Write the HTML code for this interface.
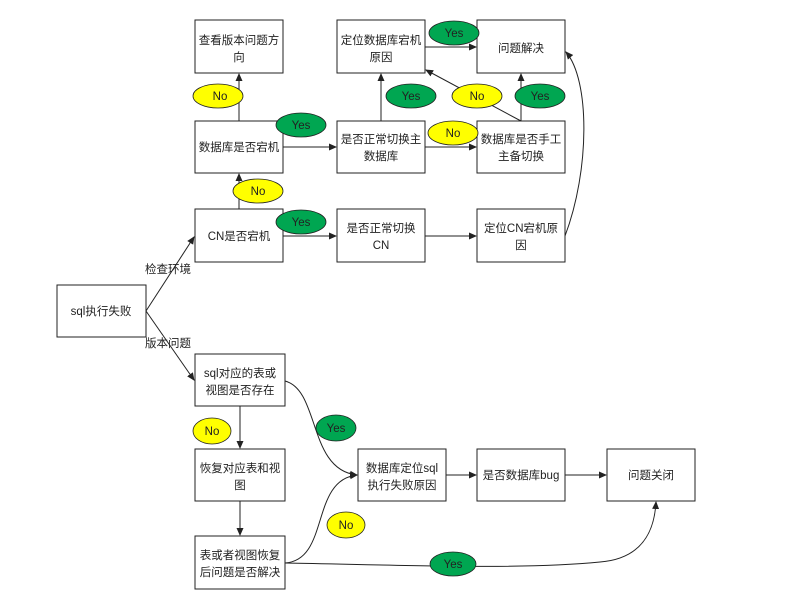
<!DOCTYPE html>
<html><head><meta charset="utf-8"><style>
body{margin:0;background:#fff;}
svg text{font-family:"Liberation Sans","Noto Sans CJK SC",sans-serif;font-size:11.5px;fill:#222;}
</style></head><body>
<svg width="800" height="609" viewBox="0 0 800 609" xmlns="http://www.w3.org/2000/svg">
<defs><marker id="a" markerWidth="8" markerHeight="8" refX="7" refY="4" orient="auto" markerUnits="userSpaceOnUse"><path d="M0,0.5 L8,4 L0,7.5 z" fill="#222"/></marker></defs>
<g stroke="#222" stroke-width="1" fill="none">
<line x1="239" y1="121" x2="239" y2="74" marker-end="url(#a)"/>
<line x1="239" y1="209" x2="239" y2="174" marker-end="url(#a)"/>
<line x1="283" y1="147" x2="336" y2="147" marker-end="url(#a)"/>
<line x1="283" y1="236" x2="336" y2="236" marker-end="url(#a)"/>
<line x1="425" y1="147" x2="476" y2="147" marker-end="url(#a)"/>
<line x1="425" y1="236" x2="476" y2="236" marker-end="url(#a)"/>
<line x1="381" y1="121" x2="381" y2="74" marker-end="url(#a)"/>
<line x1="425" y1="47" x2="476" y2="47" marker-end="url(#a)"/>
<line x1="521" y1="121" x2="521" y2="74" marker-end="url(#a)"/>
<line x1="521" y1="121" x2="426" y2="70" marker-end="url(#a)"/>
<path d="M565,236 C590,170 590,80 566,52" marker-end="url(#a)"/>
<line x1="146" y1="311" x2="194" y2="237" marker-end="url(#a)"/>
<line x1="146" y1="311" x2="194" y2="380" marker-end="url(#a)"/>
<line x1="240" y1="406" x2="240" y2="448" marker-end="url(#a)"/>
<line x1="240" y1="501" x2="240" y2="535" marker-end="url(#a)"/>
<path d="M285,381 C320,390 308,470 357,475" marker-end="url(#a)"/>
<path d="M285,563 C330,560 310,480 357,475" marker-end="url(#a)"/>
<path d="M285,563 C400,565 520,570 600,562 C650,558 655,520 656,502" marker-end="url(#a)"/>
<line x1="446" y1="475" x2="476" y2="475" marker-end="url(#a)"/>
<line x1="565" y1="475" x2="606" y2="475" marker-end="url(#a)"/>
</g>
<g stroke="#222" stroke-width="1" fill="#fff">
<rect x="195" y="20" width="88" height="53"/><rect x="337" y="20" width="88" height="53"/><rect x="477" y="20" width="88" height="53"/>
<rect x="195" y="121" width="88" height="52"/><rect x="337" y="121" width="88" height="52"/><rect x="477" y="121" width="88" height="52"/>
<rect x="195" y="209" width="88" height="53"/><rect x="337" y="209" width="88" height="53"/><rect x="477" y="209" width="88" height="53"/>
<rect x="57" y="285" width="89" height="52"/>
<rect x="195" y="354" width="90" height="52"/><rect x="195" y="449" width="90" height="52"/><rect x="195" y="536" width="90" height="53"/>
<rect x="358" y="449" width="88" height="52"/><rect x="477" y="449" width="88" height="52"/><rect x="607" y="449" width="88" height="52"/>
</g>
<g stroke="#222" stroke-width="0.8">
<g fill="#00a651">
<ellipse cx="454" cy="33" rx="25" ry="12"/><ellipse cx="301" cy="125" rx="25" ry="12"/><ellipse cx="411" cy="96" rx="25" ry="12"/><ellipse cx="540" cy="96" rx="25" ry="12"/><ellipse cx="301" cy="222" rx="25" ry="12"/><ellipse cx="336" cy="428" rx="20" ry="13"/><ellipse cx="453" cy="564" rx="23" ry="12"/>
</g>
<g fill="#ffff00">
<ellipse cx="218" cy="96" rx="25" ry="12"/><ellipse cx="477" cy="96" rx="25" ry="12"/><ellipse cx="453" cy="133" rx="25" ry="12"/><ellipse cx="258" cy="191" rx="25" ry="12"/><ellipse cx="212" cy="431" rx="19" ry="13"/><ellipse cx="346" cy="525" rx="19" ry="13"/>
</g>
</g>
<g text-anchor="middle">
<text x="454" y="37">Yes</text><text x="301" y="129">Yes</text><text x="411" y="100">Yes</text><text x="540" y="100">Yes</text><text x="301" y="226">Yes</text><text x="336" y="432">Yes</text><text x="453" y="568">Yes</text>
<text x="220" y="100">No</text><text x="477" y="100">No</text><text x="453" y="137">No</text><text x="258" y="195">No</text><text x="212" y="435">No</text><text x="346" y="529">No</text>
<text x="239" y="44">查看版本问题方</text><text x="239" y="61">向</text>
<text x="381" y="44">定位数据库宕机</text><text x="381" y="61">原因</text>
<text x="521" y="52">问题解决</text>
<text x="239" y="151">数据库是否宕机</text>
<text x="381" y="143">是否正常切换主</text><text x="381" y="160">数据库</text>
<text x="521" y="143">数据库是否手工</text><text x="521" y="160">主备切换</text>
<text x="239" y="240">CN是否宕机</text>
<text x="381" y="232">是否正常切换</text><text x="381" y="249">CN</text>
<text x="521" y="232">定位CN宕机原</text><text x="521" y="249">因</text>
<text x="101" y="315">sql执行失败</text>
<text x="168" y="273">检查环境</text><text x="168" y="347">版本问题</text>
<text x="240" y="377">sql对应的表或</text><text x="240" y="394">视图是否存在</text>
<text x="240" y="472">恢复对应表和视</text><text x="240" y="489">图</text>
<text x="240" y="559">表或者视图恢复</text><text x="240" y="576">后问题是否解决</text>
<text x="402" y="472">数据库定位sql</text><text x="402" y="489">执行失败原因</text>
<text x="521" y="479">是否数据库bug</text>
<text x="651" y="479">问题关闭</text>
</g>
</svg>
</body></html>
